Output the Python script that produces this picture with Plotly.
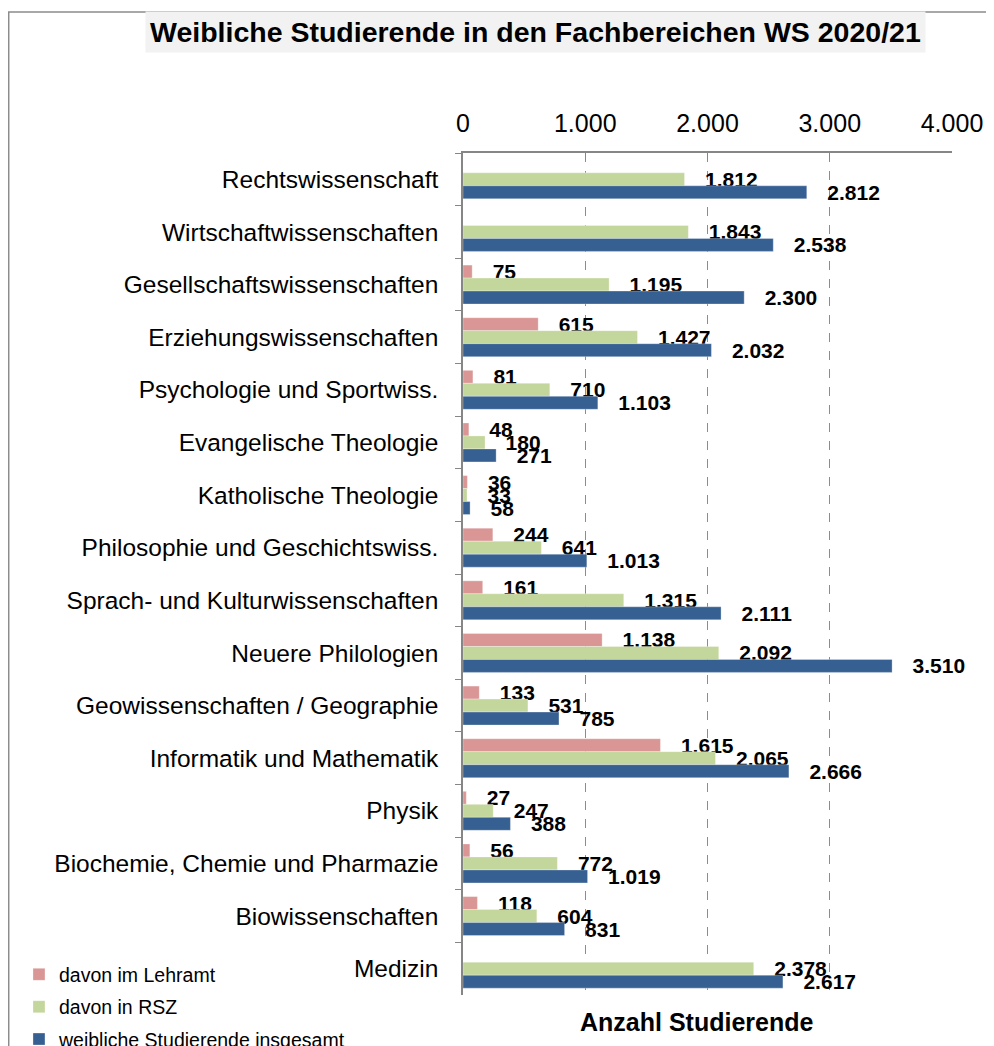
import plotly.graph_objects as go

categories = [
    'Rechtswissenschaft', 'Wirtschaftwissenschaften', 'Gesellschaftswissenschaften',
    'Erziehungswissenschaften', 'Psychologie und Sportwiss.', 'Evangelische Theologie',
    'Katholische Theologie', 'Philosophie und Geschichtswiss.',
    'Sprach- und Kulturwissenschaften', 'Neuere Philologien',
    'Geowissenschaften / Geographie', 'Informatik und Mathematik', 'Physik',
    'Biochemie, Chemie und Pharmazie', 'Biowissenschaften', 'Medizin'
]
lehramt = [None, None, 75, 615, 81, 48, 36, 244, 161, 1138, 133, 1615, 27, 56, 118, None]
rsz = [1812, 1843, 1195, 1427, 710, 180, 33, 641, 1315, 2092, 531, 2065, 247, 772, 604, 2378]
insgesamt = [2812, 2538, 2300, 2032, 1103, 271, 58, 1013, 2111, 3510, 785, 2666, 388, 1019, 831, 2617]

FONT = 'Liberation Sans, Arial, sans-serif'

fig = go.Figure()

series = [
    ('davon im Lehramt', lehramt, '#D99694'),
    ('davon in RSZ', rsz, '#C3D69B'),
    ('weibliche Studierende insgesamt', insgesamt, '#376092'),
]
for name, vals, color in series:
    fig.add_trace(go.Bar(
        y=categories, x=vals, orientation='h', name=name,
        marker=dict(color=color, line=dict(color='rgba(255,255,255,0.6)', width=0.5)),
        texttemplate='\u00a0\u00a0\u00a0%{x:,}', textposition='outside',
        textfont=dict(family=FONT, size=21, color='black', weight='bold'),
        cliponaxis=False, constraintext='none', legendgroup=name,
    ))

# page body adds an 8px offset, so the figure is slightly smaller than the window
fig.update_layout(
    width=986, height=1038,
    paper_bgcolor='white', plot_bgcolor='white',
    separators=',.',
    barmode='group', bargap=0.26, bargroupgap=0,
    margin=dict(l=455, r=42, t=145, b=51, autoexpand=False),
    font=dict(family=FONT, color='black'),
    showlegend=True,
    legend=dict(x=-0.908, y=0.0473, xanchor='left', yanchor='top',
                font=dict(size=19.5), tracegroupgap=4, bgcolor='rgba(0,0,0,0)',
                itemwidth=30),
)

fig.update_xaxes(
    side='top', range=[0, 4000], dtick=1000, tickformat=',',
    tickfont=dict(size=25), showline=True, linecolor='#868686', linewidth=1.5,
    ticks='inside', ticklen=7, tickcolor='#868686',
    showgrid=True, gridcolor='#8c8c8c', griddash='dash', gridwidth=1,
    zeroline=False, ticklabelstandoff=9,
)
fig.update_yaxes(
    autorange='reversed', tickfont=dict(size=24.5),
    showline=True, linecolor='#868686', linewidth=1.5,
    ticks='outside', ticklen=6, tickcolor='#868686', tickson='boundaries',
    ticklabelstandoff=18,
)

fig.add_annotation(
    text='<b>Weibliche Studierende in den Fachbereichen WS 2020/21</b>',
    xref='paper', yref='paper', x=0.149, y=1.1437, xanchor='center', yanchor='middle',
    showarrow=False, font=dict(size=28.5), bgcolor='#f2f2f2', borderpad=4,
)
fig.add_annotation(
    text='<b>Anzahl Studierende</b>', xref='paper', yref='paper',
    x=0.4785, y=-0.032, xanchor='center', yanchor='middle',
    showarrow=False, font=dict(size=25),
)
fig.add_shape(
    type='rect', xref='paper', yref='paper',
    x0=-0.929, x1=1.3, y0=-0.2, y1=1.1675,
    line=dict(color='#8c8c8c', width=1.5), layer='below',
)

fig.write_html('out.html')
